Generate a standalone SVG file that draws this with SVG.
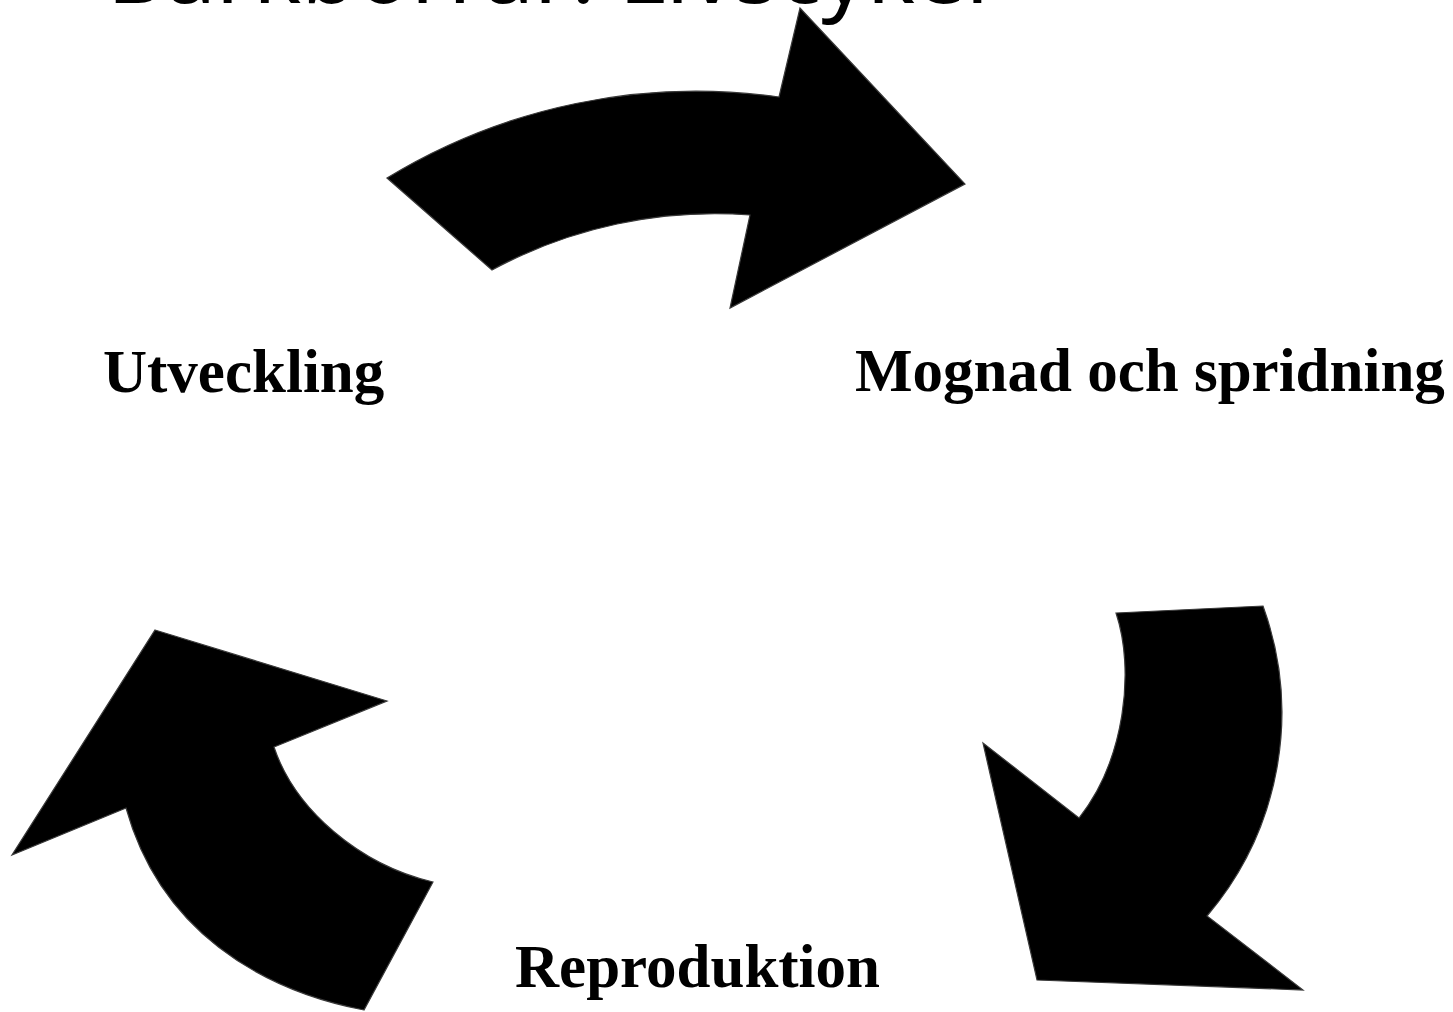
<svg xmlns="http://www.w3.org/2000/svg" width="1453" height="1012" viewBox="0 0 1453 1012">
<style>
.title{font-family:"Noto Sans","Open Sans","DejaVu Sans",sans-serif;font-size:90px;fill:#000}
.lbl{font-family:"Liberation Serif","Times New Roman",serif;font-weight:bold;font-size:61px;fill:#000}
.arrow{fill:#000;stroke:#3a3a3a;stroke-width:1.2;stroke-linejoin:miter}
</style>
<rect width="1453" height="1012" fill="#fff"/>
<text class="title" x="107" y="3">Barkborrar: Livscykel</text>
<g id="connectors">
<path id="arrow-top" class="arrow" d="M387,178 A594,594 0 0,1 779,97 L800,8 L965,184 L730,308 L750,215 A470,470 0 0,0 492,270 Z"/>
<path id="arrow-right" class="arrow" d="M1116,613 L1263,606 A313,313 0 0,1 1207,916 L1303,990 L1037,980 L983,743 L1079,818 C1125,760 1135,670 1116,613 Z"/>
<path id="arrow-left" class="arrow" d="M155,630 L387,701 L274,747 C295,810 360,865 433,882 L364,1010 C260,990 160,930 126,808 L12,855 Z"/>
</g>
<g id="node-utveckling"><text class="lbl" x="103" y="392">Utveckling</text></g>
<g id="node-mognad"><text class="lbl" x="855" y="391">Mognad och spridning</text></g>
<g id="node-reproduktion"><text class="lbl" x="515" y="987">Reproduktion</text></g>
</svg>
